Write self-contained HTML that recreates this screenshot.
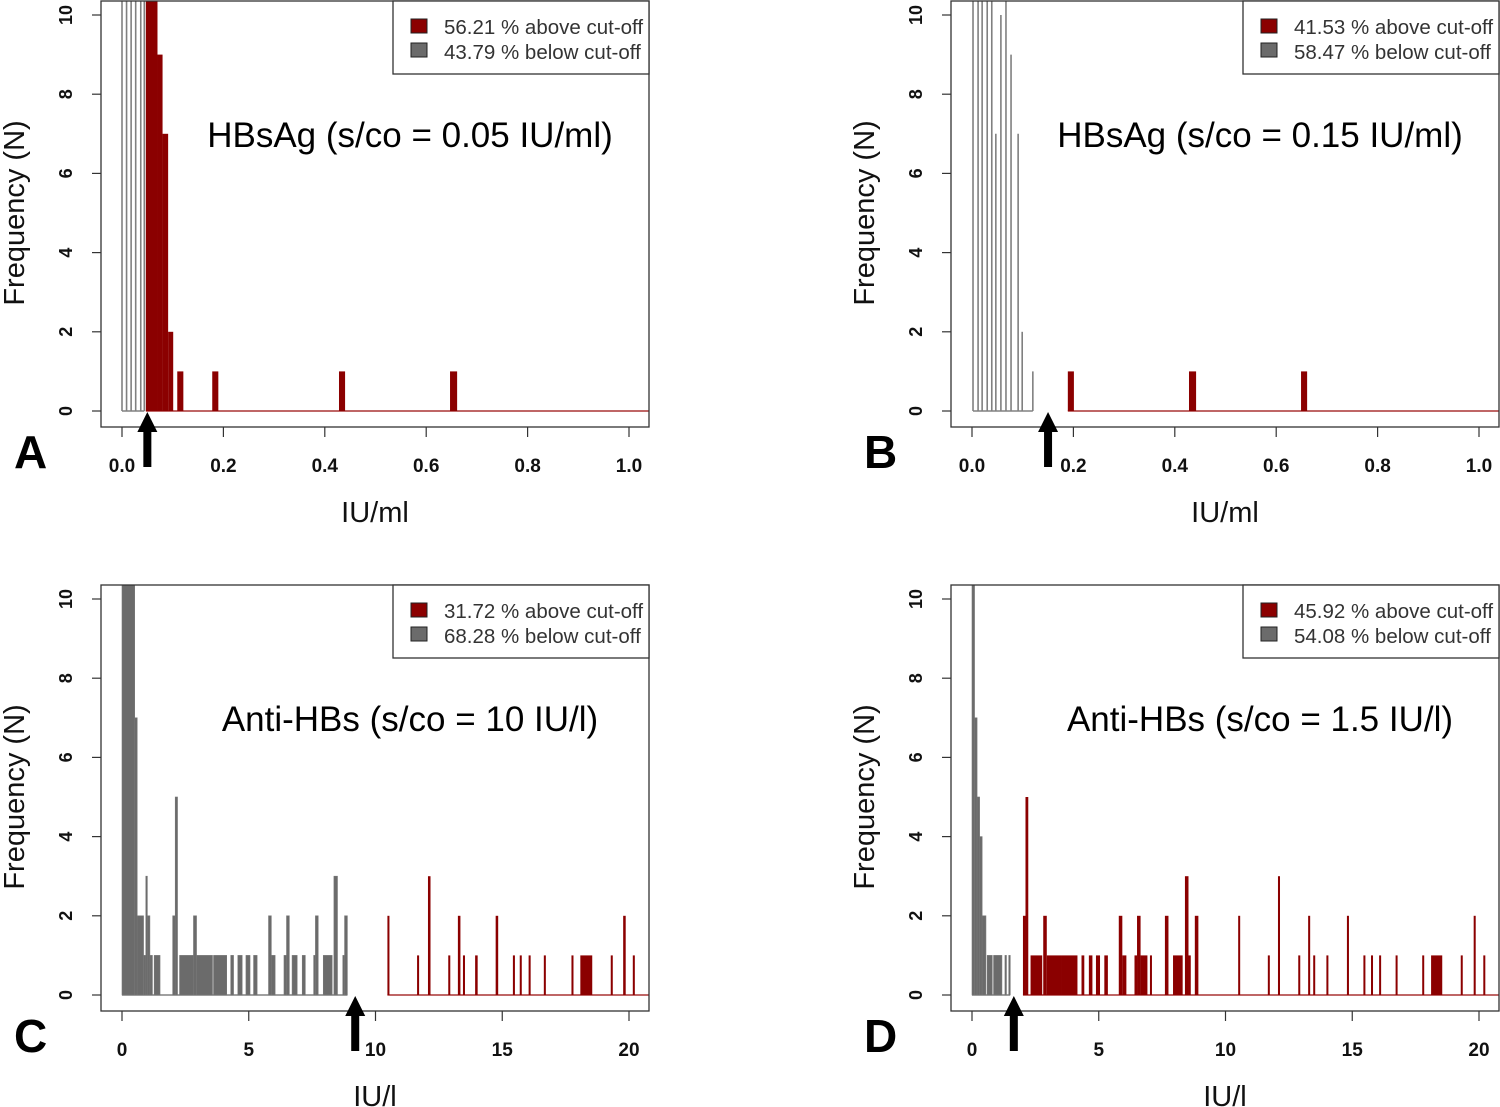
<!DOCTYPE html>
<html><head><meta charset="utf-8"><style>
html,body{margin:0;padding:0;background:#fff;}
svg{display:block;}
</style></head><body>
<svg id="fig" width="1500" height="1107" viewBox="0 0 1500 1107" xmlns="http://www.w3.org/2000/svg"></svg>
<script>
// ---- Panel A data (HBsAg, cut-off 0.05 IU/ml) ----
const aGrayX = [0, 0.009, 0.018, 0.027, 0.037, 0.044];
const aGrayN = [12, 12, 12, 12, 12, 12];
const aRedStart = [0.047, 0.070, 0.080, 0.091, 0.109, 0.178, 0.428, 0.647];
const aRedEnd   = [0.070, 0.080, 0.091, 0.101, 0.121, 0.190, 0.440, 0.661];
const aRedN     = [12, 9, 7, 2, 1, 1, 1, 1];
// ---- Panel B data (HBsAg, cut-off 0.15 IU/ml) ----
const bGrayX = [0.002, 0.012, 0.020, 0.030, 0.039, 0.047, 0.057, 0.067, 0.077, 0.091, 0.099, 0.120];
const bGrayN = [12, 12, 12, 12, 12, 7, 10, 12, 9, 7, 2, 1];
const bRedStart = [0.189, 0.428, 0.649];
const bRedEnd   = [0.201, 0.442, 0.661];
const bRedN     = [1, 1, 1];
// ---- Panel C data (Anti-HBs, cut-off 10 IU/l) ----
const cGrayStart = [0, 0.5, 0.6, 0.85, 0.94, 1.0, 1.1, 1.27, 2.0, 2.1, 2.27, 2.82, 2.94, 3.61, 4.29, 4.57, 4.89, 5.19, 5.78, 5.89, 6.39, 6.49, 6.71, 7.11, 7.56, 7.63, 7.94, 8.36, 8.71, 8.78];
const cGrayEnd   = [0.5, 0.6, 0.85, 0.94, 1.0, 1.1, 1.2, 1.5, 2.1, 2.19, 2.82, 2.94, 3.57, 4.13, 4.40, 4.74, 5.05, 5.33, 5.89, 6.04, 6.49, 6.60, 6.91, 7.23, 7.63, 7.74, 8.29, 8.50, 8.78, 8.89];
const cGrayN     = [12, 7, 2, 1, 3, 2, 1, 1, 2, 5, 1, 2, 1, 1, 1, 1, 1, 1, 2, 1, 1, 2, 1, 1, 1, 2, 1, 3, 1, 2];
const cRedStart = [10.47, 11.64, 12.07, 12.87, 13.25, 13.45, 13.93, 14.74, 15.42, 15.69, 16.04, 16.64, 17.73, 18.08, 19.28, 19.77, 20.15];
const cRedEnd   = [10.55, 11.72, 12.17, 12.95, 13.35, 13.53, 14.03, 14.84, 15.50, 15.77, 16.12, 16.72, 17.81, 18.55, 19.36, 19.87, 20.23];
const cRedN     = [2, 1, 3, 1, 2, 1, 1, 2, 1, 1, 1, 1, 1, 1, 1, 2, 1];
// ---- Panel D data (Anti-HBs, cut-off 1.5 IU/l) ----
const dGrayStart = [0, 0.1, 0.2, 0.3, 0.4, 0.6, 0.85, 1.3, 1.45];
const dGrayEnd   = [0.1, 0.2, 0.3, 0.4, 0.55, 0.8, 1.18, 1.35, 1.5];
const dGrayN     = [12, 7, 5, 4, 2, 1, 1, 1, 1];
const dRedStart = [2.01, 2.11, 2.31, 2.81, 2.95, 3.53, 4.32, 4.61, 4.89, 5.22, 5.79, 5.93, 6.41, 6.51, 6.65, 7.02, 7.61, 7.93, 8.40, 8.54, 8.79, 10.50, 11.67, 12.07, 12.87, 13.26, 13.46, 13.98, 14.79, 15.44, 15.74, 16.06, 16.71, 17.76, 18.11, 19.28, 19.79, 20.17];
const dRedEnd   = [2.11, 2.22, 2.77, 2.95, 3.53, 4.16, 4.43, 4.75, 5.05, 5.36, 5.93, 6.09, 6.51, 6.65, 6.92, 7.09, 7.75, 8.31, 8.54, 8.63, 8.93, 10.56, 11.73, 12.15, 12.93, 13.34, 13.52, 14.04, 14.87, 15.50, 15.80, 16.12, 16.77, 17.82, 18.55, 19.34, 19.87, 20.23];
const dRedN     = [2, 5, 1, 2, 1, 1, 1, 1, 1, 1, 2, 1, 1, 2, 1, 1, 2, 1, 3, 1, 2, 2, 1, 3, 1, 2, 1, 1, 2, 1, 1, 1, 1, 1, 1, 1, 2, 1];
// ---- Axis ticks / labels ----
const yTicks = [0, 2, 4, 6, 8, 10];
const xTicksML = [0, 0.2, 0.4, 0.6, 0.8, 1.0];
const xTicksML_labels = ["0.0", "0.2", "0.4", "0.6", "0.8", "1.0"];
const xTicksL = [0, 5, 10, 15, 20];
const xTicksL_labels = ["0", "5", "10", "15", "20"];
const legendAbove = ["56.21 % above cut-off", "41.53 % above cut-off", "31.72 % above cut-off", "45.92 % above cut-off"];
const legendBelow = ["43.79 % below cut-off", "58.47 % below cut-off", "68.28 % below cut-off", "54.08 % below cut-off"];
const cutoffs = [0.05, 0.15, 9.2, 1.65];

const NS = "http://www.w3.org/2000/svg";
const svg = document.getElementById('fig');
const RED = "#8b0000", GRAY = "#6b6b6b";
function mk(tag, attrs, parent){ const e=document.createElementNS(NS,tag); for(const k in attrs) e.setAttribute(k,attrs[k]); (parent||svg).appendChild(e); return e; }

function panel(idx, ox, oy, xmax, ticks, tickLabels, title, xtitle, letter, grayMode, grayA, grayB, grayN, redS, redE, redN){
  const g = mk('g', {});
  
  
  const left = ox+101, right = ox+649, top = oy+1, bottom = oy+427;
  const x0 = ox+122, xw = 507;
  const X = v => x0 + v / xmax * xw;
  const y0 = oy+411, yu = 39.6;
  const Y = n => y0 - Math.min(n, 10.7) * yu;
  const clipId = 'clip'+idx;
  const cp = mk('clipPath', {id: clipId}, g); mk('rect', {x:left, y:top, width:right-left, height:bottom-top}, cp);
  const marks = mk('g', {'clip-path': 'url(#'+clipId+')'}, g);
  if (grayMode === 'lines') {
    const bl = mk('line', {x1:X(grayA[0]), x2:X(grayA[grayA.length-1]), y1:y0, y2:y0, stroke:"#808080", 'stroke-width':1.5}, marks);
    
    
    grayA.forEach((v,i) => {
      const l = mk('line', {x1:X(v), x2:X(v), y1:y0, y2:Y(grayN[i]), stroke:"#808080", 'stroke-width':1.6}, marks);
      
      
    });
  } else {
    mk('line', {x1:X(grayA[0]), x2:X(grayB[grayB.length-1]), y1:y0, y2:y0, stroke:"#808080", 'stroke-width':1.5}, marks);
    grayA.forEach((v,i) => {
      const r = mk('rect', {x:X(v), y:Y(grayN[i]), width:Math.max(X(grayB[i])-X(v),1.5), height:y0-Y(grayN[i]), fill:GRAY, stroke:"#777", 'stroke-width':0.6}, marks);
      
      
    });
  }
  const rb = mk('line', {x1:X(redS[0]), x2:right, y1:y0, y2:y0, stroke:"#a33", 'stroke-width':1.5}, marks);
  
  
  redS.forEach((v,i) => {
    const r = mk('rect', {x:X(v), y:Y(redN[i]), width:Math.max(X(redE[i])-X(v),2), height:y0-Y(redN[i]), fill:RED}, marks);
    
    
  });
  const fr = mk('rect', {x:left, y:top, width:right-left, height:bottom-top, fill:'none', stroke:'#333', 'stroke-width':1.3}, g);
  
  
  yTicks.forEach(t => {
    mk('line', {x1:left-9, x2:left, y1:Y(t), y2:Y(t), stroke:'#333', 'stroke-width':1.2}, g);
    const tx = mk('text', {x:0, y:0, transform:`translate(${ox+72},${Y(t)}) rotate(-90)`, 'text-anchor':'middle', 'font-family':'Liberation Sans, sans-serif', 'font-size':18, 'font-weight':'bold', fill:'#111'}, g);
    tx.textContent = t;
    
    
  });
  ticks.forEach((t,i) => {
    mk('line', {x1:X(t), x2:X(t), y1:bottom, y2:bottom+10, stroke:'#333', 'stroke-width':1.2}, g);
    const tx = mk('text', {x:X(t), y:oy+472, 'text-anchor':'middle', 'font-family':'Liberation Sans, sans-serif', 'font-size':19, 'font-weight':'bold', fill:'#111'}, g);
    tx.textContent = tickLabels[i];
    
    
  });
  const yt = mk('text', {x:0, y:0, transform:`translate(${ox+24},${oy+213}) rotate(-90)`, 'text-anchor':'middle', 'font-family':'Liberation Sans, sans-serif', 'font-size':29, fill:'#111'}, g);
  yt.textContent = 'Frequency (N)';
  
  
  const xt = mk('text', {x:ox+375, y:oy+522, 'text-anchor':'middle', 'font-family':'Liberation Sans, sans-serif', 'font-size':29, fill:'#111'}, g);
  xt.textContent = xtitle;
  
  
  const pt = mk('text', {x:ox+410, y:oy+147, 'text-anchor':'middle', 'font-family':'Liberation Sans, sans-serif', 'font-size':35, fill:'#000'}, g);
  pt.textContent = title;
  
  
  const lt = mk('text', {x:ox+14, y:oy+468, 'font-family':'Liberation Sans, sans-serif', 'font-size':46, 'font-weight':'bold', fill:'#000'}, g);
  lt.textContent = letter;
  
  
  const lg = mk('g', {}, g);
  
  
  mk('rect', {x:ox+393, y:top, width:right-(ox+393), height:73, fill:'#fff', stroke:'#333', 'stroke-width':1.3}, lg);
  mk('rect', {x:ox+411, y:oy+19, width:16, height:14, fill:RED, stroke:'#222', 'stroke-width':1}, lg);
  mk('rect', {x:ox+411, y:oy+43, width:16, height:14, fill:GRAY, stroke:'#222', 'stroke-width':1}, lg);
  const l1 = mk('text', {x:ox+444, y:oy+34, 'font-family':'Liberation Sans, sans-serif', 'font-size':20.5, fill:'#333'}, lg);
  l1.textContent = legendAbove[idx];
  
  
  const l2 = mk('text', {x:ox+444, y:oy+59, 'font-family':'Liberation Sans, sans-serif', 'font-size':20.5, fill:'#333'}, lg);
  l2.textContent = legendBelow[idx];
  
  
  const ax = X(cutoffs[idx]);
  const ar = mk('path', {d:`M${ax-4},${oy+467} L${ax-4},${oy+432} L${ax-10},${oy+432} L${ax},${oy+412} L${ax+10},${oy+432} L${ax+4},${oy+432} L${ax+4},${oy+467} Z`, fill:'#000'}, g);
  
  
}

panel(0, 0, 0, 1, xTicksML, xTicksML_labels, 'HBsAg (s/co = 0.05 IU/ml)', 'IU/ml', 'A', 'lines', aGrayX, null, aGrayN, aRedStart, aRedEnd, aRedN);
panel(1, 850, 0, 1, xTicksML, xTicksML_labels, 'HBsAg (s/co = 0.15 IU/ml)', 'IU/ml', 'B', 'lines', bGrayX, null, bGrayN, bRedStart, bRedEnd, bRedN);
panel(2, 0, 584, 20, xTicksL, xTicksL_labels, 'Anti-HBs (s/co = 10 IU/l)', 'IU/l', 'C', 'rects', cGrayStart, cGrayEnd, cGrayN, cRedStart, cRedEnd, cRedN);
panel(3, 850, 584, 20, xTicksL, xTicksL_labels, 'Anti-HBs (s/co = 1.5 IU/l)', 'IU/l', 'D', 'rects', dGrayStart, dGrayEnd, dGrayN, dRedStart, dRedEnd, dRedN);
</script>
</body></html>
